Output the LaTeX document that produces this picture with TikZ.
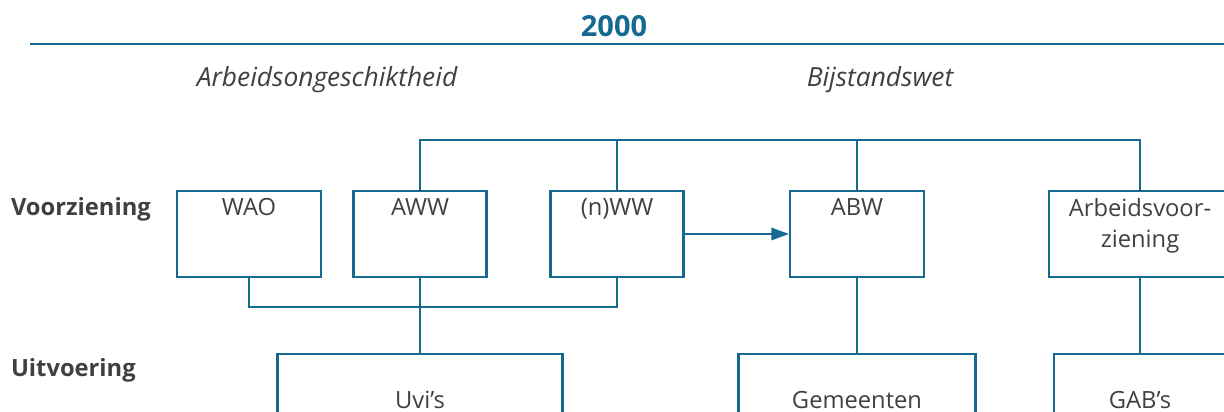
\documentclass[tikz,border=0pt]{standalone}
\usepackage{fontspec}
\setmainfont{Open Sans}
\usetikzlibrary{arrows.meta, positioning}
\definecolor{lijn}{RGB}{22,106,146}
\definecolor{tekst}{RGB}{64,64,64}
\newcommand{\vakfont}{\fontsize{13.5}{17.6}\selectfont}

\begin{document}
\begin{tikzpicture}[
  x=0.02cm, y=-0.02cm,
  line width=1.2pt, draw=lijn,
  vak/.style={draw=lijn, minimum height=1.72cm, inner sep=0pt},
  vaktxt/.style={anchor=north, inner sep=0pt, yshift=-0.15cm, align=center,
                 font=\vakfont, text=tekst},
  uitv/.style={draw=lijn, minimum height=1.84cm, inner sep=0pt,
               font=\vakfont, text=tekst},
  kop/.style={font=\vakfont\bfseries, text=tekst, inner sep=0pt},
  thema/.style={font=\fontsize{15}{18}\selectfont\itshape, text=tekst, inner sep=0pt},
  pijl/.style={-{Triangle[length=10pt, width=7pt]}, draw=lijn, fill=lijn}
]
  \useasboundingbox (0,0) rectangle (1224,412);
  \clip (0,0) rectangle (1224,412);

  % Title
  \node[font=\fontsize{16.5}{20}\selectfont\bfseries, text=lijn, inner sep=0pt,
        anchor=base] (jaar) at (614,37) {2000};
  \draw[lijn] (30,44) -- (1224,44);

  \node[thema, anchor=base] (ao) at (327,87) {Arbeidsongeschiktheid};
  \node[thema, anchor=base] (bw) at (880,87) {Bijstandswet};

  % Row labels
  \node[kop, anchor=base west] (voorz) at (10,215) {Voorziening};
  \node[kop, anchor=base west] (uitvo) at (10,376) {Uitvoering};

  % Voorziening
  \node[vak, minimum width=2.88cm, label={[vaktxt]north:WAO}]  (wao) at (249,234)  {};
  \node[vak, minimum width=2.66cm, label={[vaktxt]north:AWW}]  (aww) at (420,234)  {};
  \node[vak, minimum width=2.66cm, label={[vaktxt]north:(n)WW}] (nww) at (617,234) {};
  \node[vak, minimum width=2.68cm, label={[vaktxt]north:ABW}]  (abw) at (857,234)  {};
  \node[vak, minimum width=3.64cm,
        label={[vaktxt]north:Arbeidsvoor-\\ziening}]           (av)  at (1140,234) {};

  % Uitvoering
  \node[uitv, minimum width=5.70cm] (uvi) at (420,400)  {Uvi’s};
  \node[uitv, minimum width=4.74cm] (gem) at (857,400)  {Gemeenten};
  \node[uitv, minimum width=3.44cm] (gab) at (1140,400) {GAB’s};

  \coordinate (boven) at (0,140);
  \coordinate (onder) at (0,307);

  \draw (aww.north) -- (aww.north |- boven) -| (av.north);
  \draw (nww.north) -- (nww.north |- boven);
  \draw (abw.north) -- (abw.north |- boven);
  \draw (wao.south) -- (wao.south |- onder) -| (nww.south);
  \draw (aww.south) -- (uvi.north);
  \draw (abw.south) -- (gem.north);
  \draw (av.south)  -- (gab.north);
  \draw[pijl] (nww.east) -- (abw.west);
\end{tikzpicture}
\end{document}
